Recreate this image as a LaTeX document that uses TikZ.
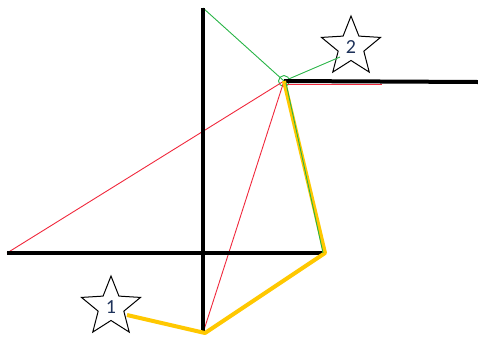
\documentclass[tikz,border=0pt]{standalone}
\usepackage{fontspec}
\setmainfont{Carlito}
\usetikzlibrary{shapes.geometric}
\definecolor{gold}{RGB}{255,200,0}
\definecolor{grn}{RGB}{40,180,70}
\definecolor{rd}{RGB}{240,40,60}
\definecolor{numc}{RGB}{30,50,90}
\tikzset{
  axis/.style={line width=4pt,black},
  thinred/.style={line width=0.9pt,rd},
  thingreen/.style={line width=0.9pt,grn},
  path/.style={line width=4pt,gold,line join=round},
  starbox/.style={star,star points=5,star point ratio=2.3,draw,line width=1pt,minimum size=62pt,inner sep=0pt,font=\fontsize{20}{20}\selectfont,text=numc},
}
\begin{document}
\begin{tikzpicture}[x=1pt,y=-1pt]
\useasboundingbox (0,0) rectangle (478,338);
\coordinate (vt) at (203,8);
\coordinate (vb) at (203,333);
\coordinate (hl) at (7,253);
\coordinate (hr) at (325,253);
\coordinate (rr) at (478,82);
\coordinate (rm) at (382,84);
\coordinate (bot) at (205,333);
\node[draw=grn,circle,line width=0.9pt,minimum size=11pt,inner sep=0pt] (P) at (284,81) {};
\node[starbox] (s2) at (351,47) {2};
\node[starbox] (s1) at (111,307) {1};
\coordinate (s2in) at (340,57);
\coordinate (s1in) at (127,315);
% thin lines
\draw[thinred] (hl) -- (P.center);
\draw[thinred] (vb) -- (P.center);
\draw[thinred] (P.center) -- ++(0,3) -- (rm);
\draw[thingreen] (vt) -- (P.center);
\draw[thingreen] (P.center) -- (s2in);
% axes
\draw[axis] (vt) -- (vb);
\draw[axis] (hl) -- (hr);
\draw[axis] (P.center) -- (rr);
% yellow path
\draw[path] (P.center) -- (hr) -- (bot) -- (s1in);
\draw[thingreen] (P.center) ++(2,2) -- ([xshift=-2pt]hr);
\end{tikzpicture}
\end{document}
